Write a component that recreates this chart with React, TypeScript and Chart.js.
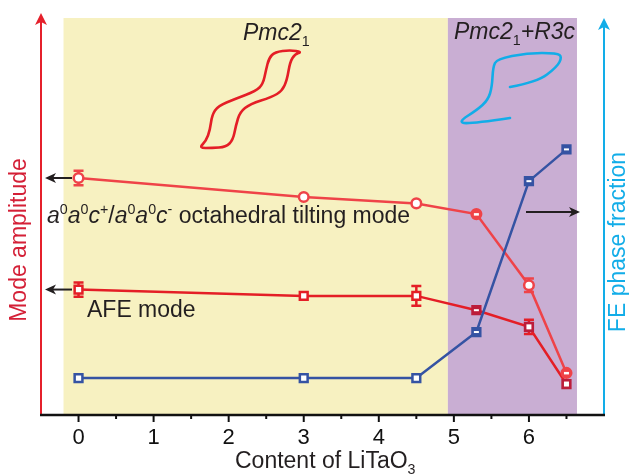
import React, { useEffect, useRef } from "react";
import { Chart, registerables } from "chart.js";

Chart.register(...registerables);

// ---- data ----
const xValues = [0, 3, 4.5, 5.3, 6, 6.5];
const tiltingMode = [59.7, 54.9, 53.3, 50.6, 32.7, 10.6];
const tiltingErr = [1.8, 0, 0, 0, 1.7, 0];
const afeMode = [31.6, 30.0, 30.0, 26.4, 22.2, 7.8];
const afeErr = [1.8, 0, 2.5, 0, 1.8, 0];
const fePhase = [9.3, 9.3, 9.3, 20.9, 58.9, 66.9];
const xTickLabels = ["0", "1", "2", "3", "4", "5", "6"];
const phaseBounds = [-0.2, 4.92, 6.64];
const phaseNames = ["Pmc2", "Pmc2"];

const FONT = '"Liberation Sans", Arial, Helvetica, sans-serif';
const YELLOW = "#f7f1c1";
const PURPLE = "#c9aed3";
const RED_AXIS = "#e5202b";
const RED_TITLE = "#d42037";
const CYAN = "#12ade8";
const TILT = "#ef4348";
const AFE = "#e41e26";
const CRIMSON = "#bc1d3b";
const BLUE = "#3553a3";
const INK = "#231f20";

type Seg = { t: string; i?: boolean; sup?: boolean; sub?: boolean };

function drawRich(ctx: CanvasRenderingContext2D, segs: Seg[], x: number, y: number, size: number, color: string) {
  let cx = x;
  ctx.fillStyle = color;
  ctx.textBaseline = "alphabetic";
  ctx.textAlign = "left";
  for (const s of segs) {
    const small = s.sup || s.sub;
    const fs = small ? size * 0.62 : size;
    ctx.font = `${s.i ? "italic " : ""}${fs}px ${FONT}`;
    let dy = 0;
    if (s.sup) dy = -size * 0.38;
    if (s.sub) dy = size * 0.26;
    ctx.fillText(s.t, cx, y + dy);
    cx += ctx.measureText(s.t).width;
  }
}

function smoothPath(ctx: CanvasRenderingContext2D, pts: number[][], closed: boolean) {
  ctx.beginPath();
  if (closed) {
    const n = pts.length;
    const mid = (a: number[], b: number[]) => [(a[0] + b[0]) / 2, (a[1] + b[1]) / 2];
    const m0 = mid(pts[n - 1], pts[0]);
    ctx.moveTo(m0[0], m0[1]);
    for (let i = 0; i < n; i++) {
      const p = pts[i];
      const m = mid(p, pts[(i + 1) % n]);
      ctx.quadraticCurveTo(p[0], p[1], m[0], m[1]);
    }
    ctx.closePath();
  } else {
    ctx.moveTo(pts[0][0], pts[0][1]);
    for (let i = 1; i < pts.length - 1; i++) {
      const p = pts[i];
      const q = pts[i + 1];
      const m = i === pts.length - 2 ? q : [(p[0] + q[0]) / 2, (p[1] + q[1]) / 2];
      ctx.quadraticCurveTo(p[0], p[1], m[0], m[1]);
    }
  }
  ctx.stroke();
}

function arrow(ctx: CanvasRenderingContext2D, x1: number, y: number, x2: number, color: string) {
  // from x1 to tip x2
  const dir = Math.sign(x2 - x1);
  ctx.strokeStyle = color;
  ctx.fillStyle = color;
  ctx.lineWidth = 2;
  ctx.beginPath();
  ctx.moveTo(x1, y);
  ctx.lineTo(x2 - dir * 6, y);
  ctx.stroke();
  ctx.beginPath();
  ctx.moveTo(x2, y);
  ctx.lineTo(x2 - dir * 11, y - 5);
  ctx.lineTo(x2 - dir * 8, y);
  ctx.lineTo(x2 - dir * 11, y + 5);
  ctx.closePath();
  ctx.fill();
}

function vArrow(ctx: CanvasRenderingContext2D, x: number, yBottom: number, yTip: number, color: string) {
  ctx.strokeStyle = color;
  ctx.fillStyle = color;
  ctx.lineWidth = 2;
  ctx.beginPath();
  ctx.moveTo(x, yBottom);
  ctx.lineTo(x, yTip + 6);
  ctx.stroke();
  ctx.beginPath();
  ctx.moveTo(x, yTip);
  ctx.lineTo(x - 6, yTip + 12);
  ctx.lineTo(x, yTip + 9);
  ctx.lineTo(x + 6, yTip + 12);
  ctx.closePath();
  ctx.fill();
}

const decor = {
  id: "decor",
  beforeDraw(chart: any) {
    const { ctx, chartArea, scales } = chart;
    const x = scales.x;
    const x0 = x.getPixelForValue(phaseBounds[0]);
    const x1 = x.getPixelForValue(phaseBounds[1]);
    const x2 = x.getPixelForValue(phaseBounds[2]);
    ctx.save();
    ctx.fillStyle = YELLOW;
    ctx.fillRect(x0, chartArea.top, x1 - x0, chartArea.bottom - chartArea.top);
    ctx.fillStyle = PURPLE;
    ctx.fillRect(x1, chartArea.top, x2 - x1, chartArea.bottom - chartArea.top);
    ctx.restore();
  },
  beforeDatasetsDraw(chart: any) {
    const { ctx, chartArea, scales } = chart;
    const x = scales.x;
    const y = scales.y;
    ctx.save();
    // vertical axes with arrows
    vArrow(ctx, chartArea.left, chartArea.bottom, 13, RED_AXIS);
    vArrow(ctx, chartArea.right, chartArea.bottom, 18, CYAN);
    // error bars
    const series = [
      { v: tiltingMode, e: tiltingErr, c: TILT },
      { v: afeMode, e: afeErr, c: AFE },
    ];
    for (const s of series) {
      ctx.strokeStyle = s.c;
      ctx.lineWidth = 2.5;
      xValues.forEach((xv, i) => {
        if (!s.e[i]) return;
        const px = x.getPixelForValue(xv);
        const pt = y.getPixelForValue(s.v[i] + s.e[i]);
        const pb = y.getPixelForValue(s.v[i] - s.e[i]);
        ctx.beginPath();
        ctx.moveTo(px, pt);
        ctx.lineTo(px, pb);
        ctx.moveTo(px - 5, pt);
        ctx.lineTo(px + 5, pt);
        ctx.moveTo(px - 5, pb);
        ctx.lineTo(px + 5, pb);
        ctx.stroke();
      });
    }
    ctx.restore();
  },
  afterDatasetsDraw(chart: any) {
    const { ctx, chartArea, scales } = chart;
    const x = scales.x;
    const y = scales.y;
    ctx.save();
    // inner marks for points in the mixed-phase region
    xValues.forEach((xv, i) => {
      if (xv <= phaseBounds[1]) return;
      const px = x.getPixelForValue(xv);
      ctx.fillStyle = "#ffffff";
      // FE
      let py = y.getPixelForValue(fePhase[i]);
      ctx.fillRect(px - 2.5, py - 1, 5, 2);
      // AFE
      py = y.getPixelForValue(afeMode[i]);
      if (i === 3) ctx.fillRect(px - 2.5, py - 1, 5, 2);
      else ctx.fillRect(px - 2.5, py - 2.5, 5, 5);
      // tilting
      if (i !== 4) {
        py = y.getPixelForValue(tiltingMode[i]);
        ctx.fillRect(px - 2.5, py - 1, 5, 2.5);
      }
    });

    // bottom axis and ticks
    ctx.strokeStyle = "#111";
    ctx.lineWidth = 2.5;
    ctx.beginPath();
    ctx.moveTo(chartArea.left - 1, chartArea.bottom);
    ctx.lineTo(chartArea.right + 1, chartArea.bottom);
    ctx.stroke();
    ctx.lineWidth = 2;
    for (let v = 0; v <= 14; v++) {
      const val = -0.5 + v * 0.5;
      if (val <= -0.5) continue;
      const px = x.getPixelForValue(val);
      const major = Number.isInteger(val);
      ctx.beginPath();
      ctx.moveTo(px, chartArea.bottom);
      ctx.lineTo(px, chartArea.bottom + (major ? 7 : 4));
      ctx.stroke();
    }

    // annotation arrows
    arrow(ctx, 72, y.getPixelForValue(tiltingMode[0]), 45, INK);
    arrow(ctx, 72, y.getPixelForValue(afeMode[0]), 45, INK);
    arrow(ctx, 526, 212, 580, INK);

    // phase labels
    drawRich(ctx, [{ t: phaseNames[0], i: true }, { t: "1", sub: true }], 243, 40, 23, INK);
    drawRich(ctx, [{ t: phaseNames[1], i: true }, { t: "1", sub: true }, { t: "+R3c", i: true }], 454, 39, 23, INK);

    // mode labels
    drawRich(
      ctx,
      [
        { t: "a", i: true }, { t: "0", sup: true },
        { t: "a", i: true }, { t: "0", sup: true },
        { t: "c", i: true }, { t: "+", sup: true },
        { t: "/" },
        { t: "a", i: true }, { t: "0", sup: true },
        { t: "a", i: true }, { t: "0", sup: true },
        { t: "c", i: true }, { t: "-", sup: true },
        { t: " octahedral tilting mode" },
      ],
      47, 223, 23, INK
    );
    drawRich(ctx, [{ t: "AFE mode" }], 87, 317, 23, INK);

    // axis titles
    drawRich(ctx, [{ t: "Content of LiTaO" }, { t: "3", sub: true }], 235, 468, 23, INK);
    ctx.font = `23px ${FONT}`;
    ctx.textAlign = "center";
    ctx.textBaseline = "middle";
    ctx.save();
    ctx.translate(20, 240);
    ctx.rotate(-Math.PI / 2);
    ctx.fillStyle = RED_TITLE;
    ctx.fillText("Mode amplitude", 0, 0);
    ctx.restore();
    ctx.save();
    ctx.translate(619, 242);
    ctx.rotate(-Math.PI / 2);
    ctx.fillStyle = CYAN;
    ctx.fillText("FE phase fraction", 0, 0);
    ctx.restore();

    // hysteresis loops
    ctx.lineWidth = 2.6;
    ctx.lineCap = "round";
    ctx.lineJoin = "round";
    ctx.strokeStyle = AFE;
    smoothPath(
      ctx,
      [
        [302, 52], [290, 50], [275, 52], [269, 58], [266, 70], [263, 84], [256, 91], [235, 99], [218, 106],
        [212, 115], [210, 130], [206, 141], [199, 148], [212, 148], [226, 147], [233, 140], [236, 125],
        [240, 112], [250, 104], [272, 97], [282, 91], [287, 80], [290, 62], [295, 54],
      ],
      true
    );
    ctx.strokeStyle = CYAN;
    smoothPath(
      ctx,
      [
        [510, 87], [537, 82], [557, 67], [562, 57], [557, 53], [527, 53], [497, 59], [493, 67], [492, 87],
        [488, 100], [477, 110], [458, 122], [470, 124], [510, 118],
      ],
      false
    );
    ctx.restore();
  },
};

export default function App() {
  const ref = useRef<HTMLCanvasElement | null>(null);
  useEffect(() => {
    if (!ref.current) return;
    const mixed = (xv: number) => xv > phaseBounds[1];
    const chart = new Chart(ref.current, {
      type: "line",
      data: {
        datasets: [
          {
            label: "FE phase fraction",
            data: xValues.map((xv, i) => ({ x: xv, y: fePhase[i] })),
            borderColor: BLUE,
            borderWidth: 2.5,
            pointStyle: "rect",
            pointRadius: 5.5,
            pointBorderWidth: 2.5,
            pointBorderColor: BLUE,
            pointBackgroundColor: xValues.map((xv) => (mixed(xv) ? BLUE : "#ffffff")),
            order: 1,
          },
          {
            label: "Octahedral tilting mode",
            data: xValues.map((xv, i) => ({ x: xv, y: tiltingMode[i] })),
            borderColor: TILT,
            borderWidth: 2.5,
            pointStyle: "circle",
            pointRadius: 4.8,
            pointBorderWidth: 2.5,
            pointBorderColor: TILT,
            pointBackgroundColor: xValues.map((xv, i) => (mixed(xv) && i !== 4 ? TILT : "#ffffff")),
            order: 2,
          },
          {
            label: "AFE mode",
            data: xValues.map((xv, i) => ({ x: xv, y: afeMode[i] })),
            borderColor: AFE,
            borderWidth: 2.5,
            pointStyle: "rect",
            pointRadius: 5.5,
            pointBorderWidth: 2.5,
            pointBorderColor: xValues.map((xv) => (mixed(xv) ? CRIMSON : AFE)),
            pointBackgroundColor: xValues.map((xv) => (mixed(xv) ? CRIMSON : "#ffffff")),
            order: 3,
          },
        ],
      },
      options: {
        animation: false,
        responsive: false,
        maintainAspectRatio: false,
        layout: { padding: { left: 41, right: 25, top: 18, bottom: 0 } },
        plugins: { legend: { display: false }, tooltip: { enabled: false } },
        scales: {
          x: {
            type: "linear",
            min: -0.5,
            max: 7,
            afterFit: (s: any) => {
              s.height = 60;
            },
            grid: { display: true, drawOnChartArea: false, drawTicks: true, tickLength: 7, color: "rgba(0,0,0,0)" },
            border: { display: false },
            ticks: {
              stepSize: 0.5,
              autoSkip: false,
              maxRotation: 0,
              padding: 3,
              color: "#111111",
              font: { family: FONT, size: 22 },
              callback: (v: any) => {
                const n = Number(v);
                return Number.isInteger(n) && n >= 0 && n <= 6 ? xTickLabels[n] : "";
              },
            },
          },
          y: { display: false, min: 0, max: 100 },
        },
      },
      plugins: [decor],
    } as any);
    return () => chart.destroy();
  }, []);
  return (
    <div style={{ position: "fixed", left: 0, top: 0, width: 629, height: 475, background: "#ffffff" }}>
      <canvas ref={ref} width={629} height={475} style={{ width: 629, height: 475, display: "block" }} />
    </div>
  );
}
